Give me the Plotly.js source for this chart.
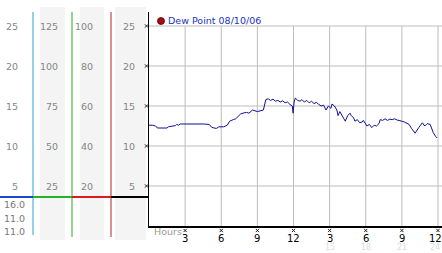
<!DOCTYPE html>
<html><head><meta charset="utf-8">
<script src="https://cdn.plot.ly/plotly-3.0.1.min.js"></script>
<style>html,body{margin:0;padding:0;background:#fff}#chart{width:442px;height:253px}</style>
</head><body><div id="chart"></div>
<script>
// ---- data ----
const hours = [0,0.3,0.55,0.7,1.0,1.5,1.6,1.9,2.2,2.3,2.45,2.6,3.0,3.6,4.0,4.5,5.0,5.2,5.4,5.6,5.8,6.2,6.5,6.7,7.0,7.2,7.4,7.6,7.9,8.1,8.3,8.6,9.0,9.3,9.5,9.7,9.9,10.1,10.3,10.5,10.7,10.9,11.1,11.3,11.5,11.7,11.9,11.97,12.05,12.15,12.35,12.55,12.7,12.9,13.1,13.3,13.5,13.7,13.9,14.1,14.3,14.5,14.7,14.9,15.1,15.2,15.4,15.6,15.7,15.85,16.0,16.2,16.3,16.5,16.7,16.8,17.0,17.1,17.3,17.5,17.7,17.8,18.0,18.1,18.3,18.5,18.7,18.9,19.1,19.2,19.4,19.6,19.8,20.0,20.2,20.4,20.6,20.8,21.0,21.2,21.4,21.6,21.8,22.1,22.4,22.7,22.9,23.1,23.35,23.6,23.8,23.93];
const dewPoint = [12.6,12.6,12.5,12.25,12.25,12.25,12.4,12.45,12.55,12.7,12.6,12.75,12.75,12.8,12.75,12.75,12.7,12.35,12.25,12.2,12.4,12.4,12.6,13.1,13.3,13.4,13.7,14.0,14.15,14.2,14.1,14.5,14.3,14.4,14.5,15.8,15.9,15.7,15.85,15.6,15.7,15.5,15.65,15.4,15.5,15.2,15.0,14.1,15.5,16.0,15.7,15.6,15.8,15.5,15.7,15.4,15.6,15.3,15.45,15.2,15.0,15.1,14.5,15.0,14.7,15.25,15.0,14.5,13.8,14.3,13.9,13.5,13.1,13.8,14.1,13.8,13.5,13.1,13.3,12.9,13.0,13.2,12.7,12.5,12.7,12.3,12.6,12.5,12.8,13.3,13.2,13.4,13.2,13.35,13.3,13.4,13.25,13.2,13.1,13.0,12.85,12.7,12.2,11.6,12.3,12.9,12.5,12.8,12.7,11.7,11.2,11.0];
const seriesName = 'Dew Point 08/10/06';
const hourTicks = [3,6,9,12,15,18,21,24];
const hourLabels = ['3','6','9','12','3','6','9','12'];
const fadedHours = [15,18,21,24];
const fadedLabels = ['15','18','21','24'];
const gridValues = [25,20,15,10,5];
const scaleCol1 = ['25','20','15','10','5'];
const scaleCol2 = ['125','100','75','50','25'];
const scaleCol3 = ['100','80','60','40','20'];
const scaleCol4 = ['25','20','15','10','5'];
const bottomValues = ['16.0','11.0','11.0'];
const xLabel = 'Hours';

// ---- geometry helpers (pixel -> paper) ----
const W = 442, H = 253, L = 149, R = 0, T = 12, B = 27;
const PW = W - L - R, PH = H - T - B;
const px = x => (x - L) / PW;
const py = y => (H - B - y) / PH;
const XMAX = 24 * PW / 289;
const YMAX = 26.75;
const FONT = 'DejaVu Sans';

const shapes = [];
const annotations = [];

// grey column backgrounds
[[40,65],[80,104],[115,146]].forEach(c => shapes.push({type:'rect', xref:'paper', yref:'paper',
  x0:px(c[0]), x1:px(c[1]), y0:py(240), y1:py(7), fillcolor:'#f4f4f4', line:{width:0}, layer:'below'}));
// coloured vertical separators
[[33,'#2a9fd0',235],[72,'#2aa52a',237],[111,'#b52222',237]].forEach(c => shapes.push({type:'line', xref:'paper', yref:'paper',
  x0:px(c[0]), x1:px(c[0]), y0:py(c[2]), y1:py(12), line:{color:c[1], width:1}}));
// coloured horizontal base segments
[[0,33,'#1f45d0'],[33,72,'#22b522'],[72,111,'#dd1a1a'],[111,149,'#000000']].forEach(c => shapes.push({type:'line', xref:'paper', yref:'paper',
  x0:px(c[0]), x1:px(c[1]), y0:py(197), y1:py(197), line:{color:c[2], width:2.2}}));

// grid lines
hourTicks.forEach(h => shapes.push({type:'line', xref:'x', yref:'y', x0:h, x1:h, y0:0, y1:25, line:{color:'#bdbdbd', width:1}, layer:'below'}));
gridValues.forEach(v => shapes.push({type:'line', xref:'paper', yref:'y', x0:0, x1:1, y0:v, y1:v, line:{color:'#bdbdbd', width:1}, layer:'below'}));

// tiny cross tick marks, all in paper space
const cross = (cx, cy) => {
  const dx = 1.6 / PW, dy = 1.6 / PH;
  [[-1,1,-1,1],[-1,1,1,-1]].forEach(d => shapes.push({type:'line', xref:'paper', yref:'paper',
    x0:cx + d[0]*dx, x1:cx + d[1]*dx, y0:cy + d[2]*dy, y1:cy + d[3]*dy, line:{color:'#222', width:1}}));
};
gridValues.forEach(v => cross(px(146.5), v / YMAX));
hourTicks.forEach(h => cross(h / XMAX, py(230.5)));

// legend marker
shapes.push({type:'circle', xref:'paper', yref:'paper', x0:px(157.5), x1:px(164.5), y0:py(24.5), y1:py(17.5),
  fillcolor:'#a01010', line:{color:'#600000', width:0.8}});
annotations.push({xref:'paper', yref:'paper', x:px(165.5), y:py(21), xanchor:'left', yanchor:'middle', showarrow:false,
  text:seriesName, font:{family:FONT, size:9.5, color:'#2233bb'}});

// left scale columns
const cols = [[scaleCol1,20],[scaleCol2,60],[scaleCol3,95],[scaleCol4,137]];
cols.forEach(c => c[0].forEach((t,i) => annotations.push({xref:'paper', yref:'y', x:px(c[1]), y:gridValues[i],
  xanchor:'right', yanchor:'middle', showarrow:false, text:t, font:{family:FONT, size:9.5, color:'#858585'}})));
// bottom values
[204.5,218.5,231.5].forEach((y,i) => annotations.push({xref:'paper', yref:'paper', x:px(27), y:py(y), xanchor:'right', yanchor:'middle',
  showarrow:false, text:bottomValues[i], font:{family:FONT, size:9.5, color:'#777'}}));
// x tick labels
hourTicks.forEach((h,i) => annotations.push({xref:'x', yref:'paper', x:h, y:py(238), xanchor:'center', yanchor:'middle',
  xshift: i === hourTicks.length - 1 ? -3 : 0,
  showarrow:false, text:hourLabels[i], font:{family:FONT, size:10, color:'#000'}}));
// faded second row
fadedHours.forEach((h,i) => annotations.push({xref:'x', yref:'paper', x:h, y:py(247.5), xanchor:'center', yanchor:'middle',
  xshift: i === fadedHours.length - 1 ? -3 : 0,
  showarrow:false, text:fadedLabels[i], font:{family:FONT, size:8, color:'#dcdcdc'}}));
// Hours label
annotations.push({xref:'paper', yref:'paper', x:px(152), y:py(231), xanchor:'left', yanchor:'middle', showarrow:false,
  text:xLabel, font:{family:FONT, size:9.5, color:'#9a9a9a'}});

const trace = {type:'scatter', mode:'lines', name:seriesName, x:hours, y:dewPoint,
  line:{color:'#10109a', width:1}, showlegend:false, hoverinfo:'skip'};

const layout = {
  width:W, height:H, margin:{l:L, r:R, t:T, b:B, pad:0},
  paper_bgcolor:'#ffffff', plot_bgcolor:'rgba(0,0,0,0)',
  showlegend:false,
  xaxis:{range:[0,XMAX], tickmode:'array', tickvals:hourTicks, showticklabels:false, ticks:'', showgrid:false, zeroline:false,
    showline:true, linecolor:'#000', linewidth:1.5, fixedrange:true},
  yaxis:{range:[0,YMAX], showticklabels:false, ticks:'', showgrid:false, zeroline:false, showline:true, linecolor:'#000', linewidth:1.5, fixedrange:true},
  shapes:shapes, annotations:annotations
};
Plotly.newPlot('chart', [trace], layout, {staticPlot:true, displayModeBar:false});
</script></body></html>
